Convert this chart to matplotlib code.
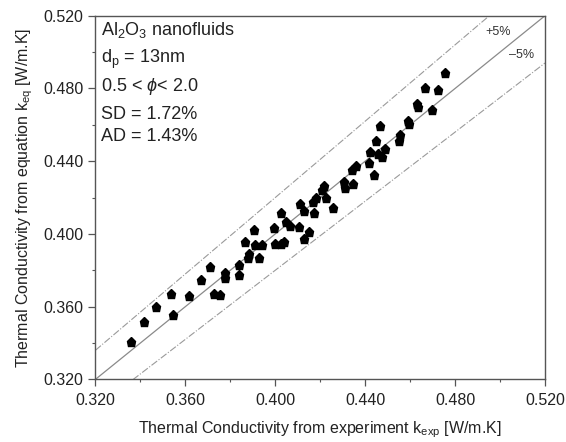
import numpy as np
import matplotlib
matplotlib.use("Agg")
import matplotlib.pyplot as plt
from matplotlib.ticker import MultipleLocator, FormatStrFormatter

plt.rcParams['font.family'] = ['Liberation Sans', 'DejaVu Sans']
plt.rcParams['mathtext.fontset'] = 'custom'
plt.rcParams['mathtext.rm'] = 'Liberation Sans'
plt.rcParams['mathtext.it'] = 'Liberation Sans:italic'

k_exp = [0.3358, 0.3416, 0.3468, 0.3538, 0.3547, 0.3616, 0.3668, 0.3708,
         0.3728, 0.3755, 0.3775, 0.3777, 0.3838, 0.3838, 0.3866, 0.3884,
         0.3877, 0.3906, 0.3910, 0.3939, 0.3928, 0.3993, 0.3997, 0.4024,
         0.4037, 0.4025, 0.4049, 0.4067, 0.4106, 0.4108, 0.4127, 0.4127,
         0.4148, 0.4169, 0.4170, 0.4182, 0.4210, 0.4216, 0.4224, 0.4257,
         0.4304, 0.4311, 0.4346, 0.4340, 0.4358, 0.4423, 0.4418, 0.4437,
         0.4447, 0.4456, 0.4475, 0.4486, 0.4467, 0.4552, 0.4556, 0.4590,
         0.4596, 0.4630, 0.4637, 0.4699, 0.4665, 0.4726, 0.4757]
k_eq = [0.3405, 0.3514, 0.3598, 0.3672, 0.3552, 0.3658, 0.3745, 0.3816,
        0.3669, 0.3664, 0.3787, 0.3757, 0.3828, 0.3775, 0.3955, 0.3892,
        0.3866, 0.4021, 0.3941, 0.3937, 0.3870, 0.4035, 0.3947, 0.3944,
        0.3958, 0.4113, 0.4068, 0.4045, 0.4038, 0.4164, 0.4126, 0.3971,
        0.4013, 0.4173, 0.4115, 0.4195, 0.4239, 0.4265, 0.4195, 0.4143,
        0.4285, 0.4252, 0.4274, 0.4349, 0.4371, 0.4453, 0.4390, 0.4324,
        0.4511, 0.4437, 0.4424, 0.4468, 0.4593, 0.4511, 0.4544, 0.4621,
        0.4604, 0.4713, 0.4700, 0.4680, 0.4801, 0.4790, 0.4883]

lims = [0.32, 0.52]
band = 0.05

fig = plt.figure(figsize=(5.66, 4.42), dpi=100)
ax = fig.add_axes([0.1687, 0.1418, 0.7942, 0.8226])

xx = np.array(lims)
ax.plot(xx, xx, color='#8a8a8a', lw=0.9)
ax.plot(xx, xx * (1 + band), color='#9a9a9a', lw=0.8, ls='-.')
ax.plot(xx, xx * (1 - band), color='#9a9a9a', lw=0.8, ls='-.')
ax.plot(k_exp, k_eq, 'p', color='black', ms=6.5, mec='black')

ax.set_xlim(lims)
ax.set_ylim(lims)
for a in (ax.xaxis, ax.yaxis):
    a.set_major_locator(MultipleLocator(0.04))
    a.set_minor_locator(MultipleLocator(0.02))
    a.set_major_formatter(FormatStrFormatter('%.3f'))
ax.tick_params(which='major', direction='out', length=5, width=0.9,
               color='#555555', labelsize=11.5, labelcolor='#222222')
ax.tick_params(which='minor', direction='out', length=2.5, width=0.8,
               color='#555555')
ax.tick_params(axis='x', which='major', pad=5)
ax.tick_params(axis='y', which='major', pad=3.5)
for s in ax.spines.values():
    s.set_color('#555555')
    s.set_linewidth(1.0)

ax.set_xlabel(r'Thermal Conductivity from experiment k$_{\rm exp}$ [W/m.K]',
              fontsize=11.5, color='#222222', labelpad=8)
ax.set_ylabel(r'Thermal Conductivity from equation k$_{\rm eq}$ [W/m.K]',
              fontsize=11.5, color='#222222', labelpad=6)

info = [r'Al$_2$O$_3$ nanofluids', r'd$_{\rm p}$ = 13nm',
        r'0.5 < $\phi$< 2.0', 'SD = 1.72%', 'AD = 1.43%']
info_y = [0.947, 0.870, 0.794, 0.715, 0.656]
for t, y in zip(info, info_y):
    ax.text(0.012, y, t, transform=ax.transAxes, fontsize=13,
            color='#222222', va='baseline', ha='left')

ax.text(0.4993, 0.5108, '+5%', fontsize=9, color='#333333',
        ha='center', va='center')
ax.text(0.5095, 0.4982, '\u20135%', fontsize=9, color='#333333',
        ha='center', va='center')

fig.savefig('out.png', dpi=100)
